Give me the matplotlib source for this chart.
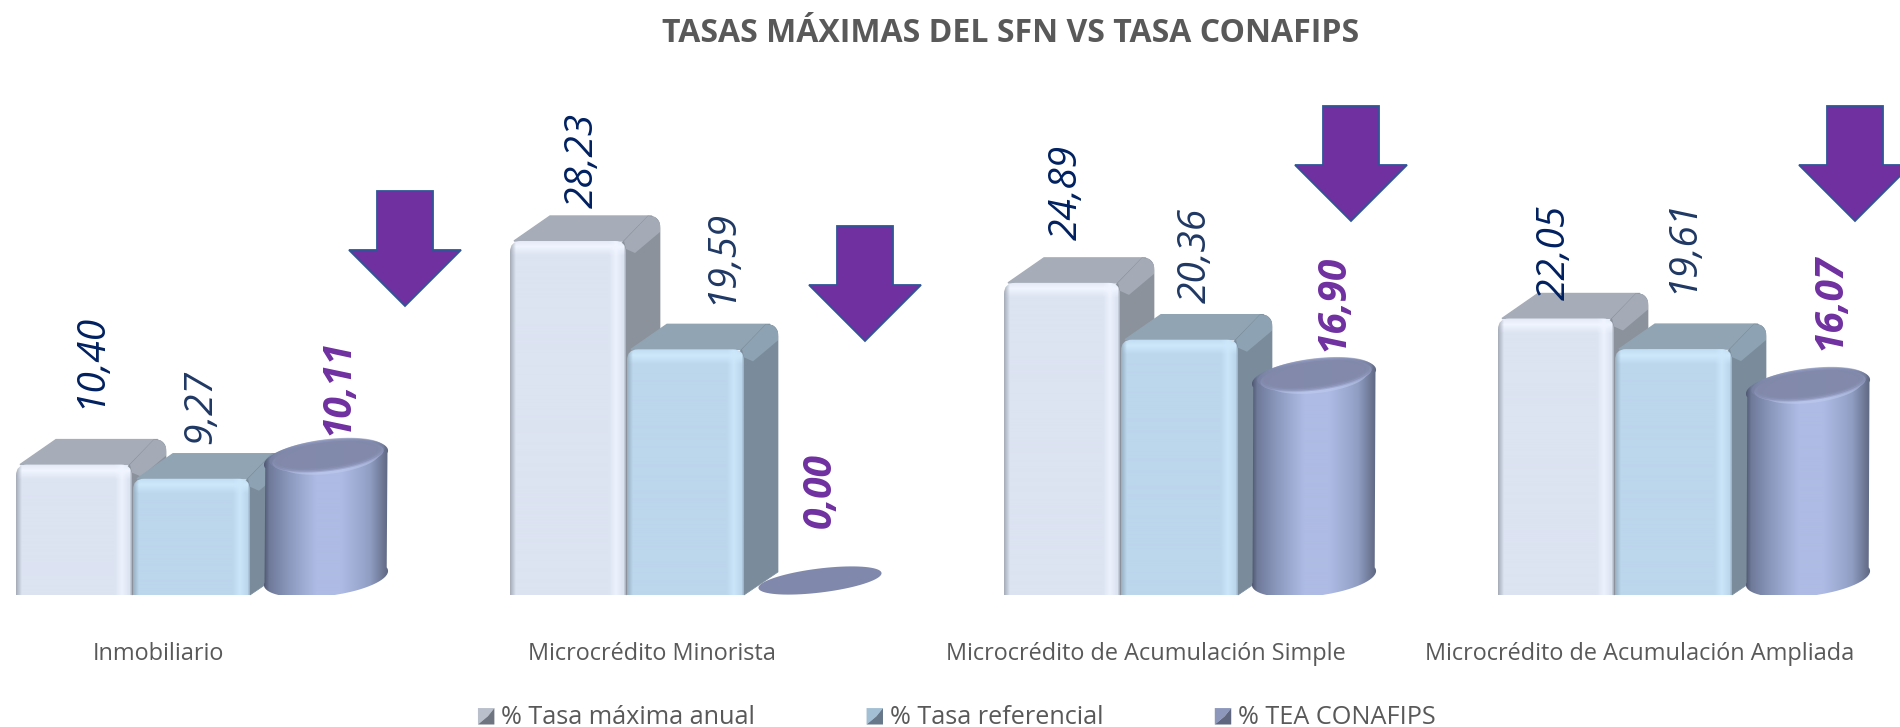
import numpy as np
import matplotlib
matplotlib.use("Agg")
import matplotlib.pyplot as plt
from matplotlib.legend_handler import HandlerBase
from matplotlib.patches import PathPatch, Patch, Polygon
from matplotlib.path import Path

categories = ["Inmobiliario", "Microcrédito Minorista",
              "Microcrédito de Acumulación Simple",
              "Microcrédito de Acumulación Ampliada"]
tasa_maxima = [10.40, 28.23, 24.89, 22.05]
tasa_referencial = [9.27, 19.59, 20.36, 19.61]
tea_conafips = [10.11, 0.00, 16.90, 16.07]
series_names = ["% Tasa máxima anual", "% Tasa referencial", "% TEA CONAFIPS"]

FONT = "Open Sans"
W, H = 1900, 727
BASE = 595            # pixel row of value 0
PX = 12.54            # pixels per unit on the value axis
CYL_PX = 11.9         # cylinder heights are foreshortened a little
CYL_BASE = 17 / PX    # centre of the bottom ellipse above the baseline
STEP = 494
DX, DY = 34, 25       # depth of the 3d boxes


def label_rows(rows):
    # pixel row -> value axis, for things placed by hand
    return [(BASE - r) / PX for r in rows]


# label anchors (x pixel, bottom pixel row), one per bar
lab_x = [[90, 583, 1067, 1555], [201, 721, 1196, 1682], [338, 820, 1333, 1830]]
lab_y = [label_rows([408, 208, 240, 300]), label_rows([444, 304, 303, 293]),
         label_rows([435, 528, 351, 350])]
lab_col = ["#002060", "#1F3864", "#7030A0"]
cat_x = [158, 652, 1146, 1640]
arrows = [(405, 191), (865, 226), (1351, 106), (1855, 106)]

fig = plt.figure(figsize=(W / 100, H / 100), dpi=100)
ax = fig.add_axes([0, 0, 1, 1])
ax.axis("off")


def hex_rgb(c):
    return np.array(matplotlib.colors.to_rgb(c))


def rounded(x0, x1, v0, v1, r=11):
    ry = r / PX
    verts = [(x0, v0), (x0, v1 - ry), (x0, v1), (x0 + r, v1), (x1 - r, v1),
             (x1, v1), (x1, v1 - ry), (x1, v0), (x0, v0)]
    codes = [Path.MOVETO, Path.LINETO, Path.CURVE3, Path.CURVE3, Path.LINETO,
             Path.CURVE3, Path.CURVE3, Path.LINETO, Path.CLOSEPOLY]
    return Path(verts, codes)


def gradient_fill(path, x0, x1, v0, v1, img, z):
    im = ax.imshow(img, extent=(x0, x1, v0, v1), aspect="auto", origin="upper",
                   interpolation="bilinear", zorder=z)
    p = PathPatch(path, fc="none", ec="none", transform=ax.transData)
    ax.add_patch(p)
    im.set_clip_path(p)


def box(x0, w, val, base, edge, band, top, side, side_hi, z):
    x1 = x0 + w
    dv = DY / PX
    # top face
    t = [(x0 + 4, val), (x0 + DX + 6, val + dv), (x1 + DX - 8, val + dv),
         (x1 + 8, val)]
    ax.add_patch(Polygon(t, fc=top, ec=top, lw=1, zorder=z))
    # side face with a rounded back corner
    verts = [(x1 - 6, val - 0.3), (x1 + DX - 12, val + dv), (x1 + DX, val + dv),
             (x1 + DX, val + dv - 12 / PX), (x1 + DX, dv - 2 / PX),
             (x1, 0), (x1 - 6, val - 0.3)]
    codes = [Path.MOVETO, Path.LINETO, Path.CURVE3, Path.CURVE3, Path.LINETO,
             Path.LINETO, Path.CLOSEPOLY]
    ax.add_patch(PathPatch(Path(verts, codes), fc=side, ec=side, lw=0.5, zorder=z))
    # lighter bevel along the back edge of the side face
    bev = [(x1 - 2, val), (x1 + DX - 12, val + dv), (x1 + DX - 5, val + dv - 1 / PX),
           (x1 + DX, val + dv - 7 / PX), (x1 + DX, val + dv - 16 / PX),
           (x1 + 9, val - 12 / PX), (x1, val - 8 / PX)]
    ax.add_patch(Polygon(bev, fc=side_hi, ec="none", zorder=z))
    # front face
    n = max(int(val * PX), 2)
    xs = np.arange(w) + 0.5
    b = hex_rgb(base)
    img = np.tile(b, (n, w, 1))
    d = np.arange(n)[:, None]
    top_mix = np.clip(1 - np.abs(d - 6) / 9, 0, 1)
    img = img * (1 - top_mix[..., None]) + hex_rgb(band) * top_mix[..., None]
    right_mix = np.clip(1 - np.abs(xs - (w - 10)) / 7, 0, 1)[None, :, None]
    img = img * (1 - right_mix * 0.85) + hex_rgb(band) * right_mix * 0.85
    left = np.clip(1 - xs / 6, 0, 1)[None, :, None]
    img = img * (1 - left) + hex_rgb(edge) * left
    rgt = np.clip(1 - (w - xs) / 2.5, 0, 1)[None, :, None]
    img = img * (1 - rgt) + hex_rgb(edge) * rgt
    gradient_fill(rounded(x0, x1, 0, val), x0, x1, 0, val, img, z + 0.1)


def ellipse_pts(cx, v, a, b, t0=0, t1=2 * np.pi, tilt=7):
    t = np.linspace(t0, t1, 80)
    ang = np.radians(tilt)
    ex, ey = a * np.cos(t), b * np.sin(t)
    xs = cx + ex * np.cos(ang) - ey * np.sin(ang)
    ys = v + (ex * np.sin(ang) + ey * np.cos(ang)) / PX
    return np.column_stack([xs, ys])


def cylinder(cx, val, z):
    a, b = 62.5, 18
    if val == 0:
        ax.add_patch(Polygon(ellipse_pts(cx, 14.5 / PX, 62, 12), fc="#8088AC", ec="none", zorder=z))
        return
    top = CYL_BASE + val * CYL_PX / PX
    up = ellipse_pts(cx, top, a, b, np.radians(-10), np.radians(190))
    low = ellipse_pts(cx, CYL_BASE, a, b, np.radians(170), np.radians(370))
    path = Path(np.vstack([up, low, up[:1]]))
    stops = [0, 0.04, 0.2, 0.42, 0.62, 0.85, 1]
    cols = ["#525A74", "#6F7A9A", "#8C99BE", "#AEBBE4", "#AEBBE4", "#919EC4", "#5E6680"]
    w = int(2 * a)
    rgb = np.array([hex_rgb(c) for c in cols])
    u = np.linspace(0, 1, w)
    row = np.column_stack([np.interp(u, stops, rgb[:, k]) for k in range(3)])
    hi = top + 30 / PX
    gradient_fill(path, cx - a, cx + a, 0, hi, row[None, :, :], z)
    # soft shoulder: pale highlight under the darker top disc
    ax.add_patch(Polygon(ellipse_pts(cx + 4, top - 1 / PX, 50, 15), fc="#C6D0F2", alpha=0.45,
                         ec="none", zorder=z + 0.1))
    ax.add_patch(Polygon(ellipse_pts(cx + 2, top + 1 / PX, 56, 14.5), fc="#9AA5CC", alpha=0.8,
                         ec="none", zorder=z + 0.12))
    for k, (aa, bb) in enumerate([(58, 15.5), (55, 14), (52, 12.5)]):
        ax.add_patch(Polygon(ellipse_pts(cx + 1, top + 3 / PX, aa, bb), fc="#8087A8", alpha=0.55,
                             ec="none", zorder=z + 0.2 + k * 0.01))


for i in range(len(categories)):
    x0 = 16 + STEP * i
    box(x0, 116, tasa_maxima[i], "#DCE3F1", "#A4ABB7", "#F0F5FF", "#A6ADB9", "#8B929C", "#A4ABB6", 2)
    box(x0 + 117, 117, tasa_referencial[i], "#BCD6EC", "#97AEC0", "#CDE8FB", "#90A4B4", "#7A8C9B", "#8DA2B2", 3)
    cylinder(x0 + 310, tea_conafips[i], 4)
    ax.text(cat_x[i], (BASE - 654) / PX, categories[i], ha="center", va="center",
            color="#595959", fontsize=16.9, family=FONT)

for s, vals in enumerate([tasa_maxima, tasa_referencial, tea_conafips]):
    for i, v in enumerate(vals):
        ax.text(lab_x[s][i], lab_y[s][i], f"{v:.2f}".replace(".", ","), rotation=90,
                ha="center", va="bottom", color=lab_col[s], fontsize=28,
                style="italic", fontweight="bold" if s == 2 else "normal", family=FONT, zorder=6)

# down arrows, hand placed on the picture
for cx, top in arrows:
    rows = [top, top + 59, top + 59, top + 115, top + 59, top + 59, top]
    xs = [cx - 28, cx - 28, cx - 56, cx, cx + 56, cx + 28, cx + 28]
    ax.add_patch(Polygon(list(zip(xs, label_rows(rows))), fc="#7030A0", ec="#2F5597",
                         lw=1.3, zorder=7))

ax.text(1011, (BASE - 33) / PX, "TASAS MÁXIMAS DEL SFN VS TASA CONAFIPS", ha="center",
        va="center", color="#595959", fontsize=23, fontweight="bold", family=FONT)


class BevelKey(HandlerBase):
    def create_artists(self, legend, orig, xd, yd, w, h, fs, trans):
        light, dark = orig.get_facecolor(), orig.get_edgecolor()
        s = min(w, h)
        a = Polygon([(0, 0), (0, s), (s, s), (s * 0.6, s * 0.5)], fc=light, ec="none", transform=trans)
        b = Polygon([(0, 0), (s, 0), (s, s), (s * 0.6, s * 0.5)], fc=dark, ec="none", transform=trans)
        return [a, b]


handles = [Patch(fc="#B9BFCB", ec="#6F7580"), Patch(fc="#A3BFD4", ec="#66788A"),
           Patch(fc="#8D97BC", ec="#5F6680")]
ax.legend(handles, series_names, handler_map={Patch: BevelKey()}, ncol=3, frameon=False,
          loc="center", bbox_to_anchor=(957 / W, 1 - 718 / H), bbox_transform=fig.transFigure,
          prop={"family": FONT, "size": 18.2}, labelcolor="#595959", handlelength=0.65,
          handleheight=0.65, handletextpad=0.28, columnspacing=4.4)

ax.set_xlim(0, W)
ax.set_ylim((BASE - H) / PX, BASE / PX)
fig.savefig("out.png", dpi=100)
